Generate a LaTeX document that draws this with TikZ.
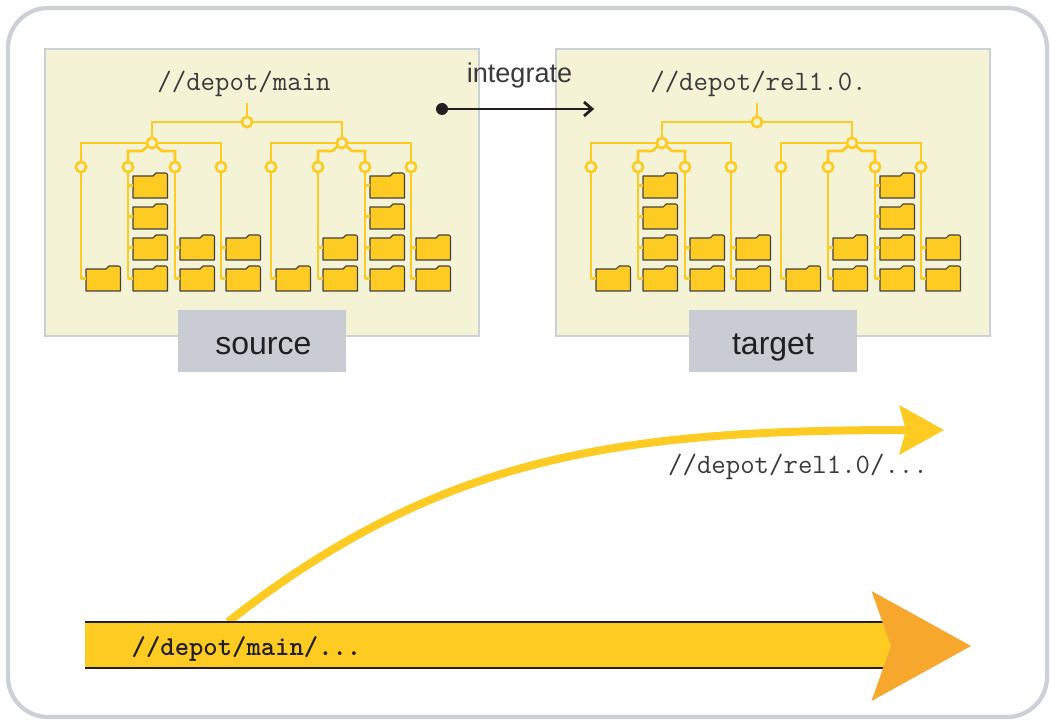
\documentclass[tikz,border=0pt]{standalone}
\usepackage{fontspec}
\setmainfont{Liberation Sans}
\definecolor{panel}{HTML}{F4F3D6}
\definecolor{edge}{HTML}{CDD0D7}
\definecolor{tag}{HTML}{C9CCD3}
\definecolor{gold}{HTML}{FDCB22}
\definecolor{amber}{HTML}{F6A72C}
\definecolor{ink}{HTML}{231F20}
\definecolor{soft}{HTML}{3A3A3C}
\tikzset{
  x=0.75pt,y=-0.75pt,
  frame/.style={draw=edge,line width=3.2pt,rounded corners=30pt,fill=white},
  panelbox/.style={draw=edge,line width=2.2pt,fill=panel},
  tagbox/.style={fill=tag,inner sep=0pt,minimum width=126pt,minimum height=46.5pt,text height=19.5pt,text depth=0pt,font=\fontsize{24}{26}\selectfont,text=ink},
  treeline/.style={draw=gold,line width=2.1pt},
  joint/.style={circle,draw=gold,fill=panel,line width=2pt,inner sep=0pt,minimum size=7.7pt},
  slot/.style={inner sep=0pt,minimum width=25.9pt,minimum height=18.75pt,anchor=north west},
  foldershape/.style={fill=gold,draw=ink!85,line width=0.8pt,line join=round},
  pathlabel/.style={font=\ttfamily\fontsize{21}{23}\selectfont,text=soft,inner sep=0pt},
}
% folder: #1 name, #2 left, #3 top
\newcommand{\folderat}[3]{%
  \node[slot] (#1) at (#2,#3) {};
  \draw[foldershape] (#2,#3+3) -- (#2+20,#3+3) -- (#2+23,#3) -- (#2+32.5,#3)
    to[out=0,in=90] (#2+34.5,#3+2) -- (#2+34.5,#3+25) -- (#2,#3+25) -- cycle;
}
% one hanging column: #1 name prefix, #2 joint x, #3 folder left, #4 rows
\newcommand{\hangcolumn}[4]{%
  \foreach \r/\ry in {#4}{%
    \folderat{#1f\r}{#3}{\ry}
    \draw[treeline] (#1.south |- #1f\r.west) -- (#1f\r.west);
  }%
}
\newcommand{\branchtree}[2]{%
  \begin{scope}[shift={(#2,0)}]
    \coordinate (#1top) at (247,103);
    \draw[treeline] (247,122) -- (#1top);
    \draw[treeline] (152,143) -- (152,122) -- (342,122) -- (342,143);
    \draw[treeline] (81,167) -- (81,143) -- (221,143) -- (221,167);
    \draw[treeline] (128,167) -- (128,151) -- (142,151) -- (152,143) -- (162,151) -- (175,151) -- (175,167);
    \draw[treeline] (271,167) -- (271,143) -- (411,143) -- (411,167);
    \draw[treeline] (318,167) -- (318,151) -- (332,151) -- (342,143) -- (352,151) -- (365,151) -- (365,167);
    \foreach \n/\x in {a/81,b/128,c/175,d/221,e/271,f/318,g/365,h/411}{
      \draw[treeline] (\x,167) -- (\x,279);
    }
    \node[joint] (#1root) at (247,122) {};
    \node[joint] (#1l) at (152,143) {};
    \node[joint] (#1r) at (342,143) {};
    \foreach \n/\x in {a/81,b/128,c/175,d/221,e/271,f/318,g/365,h/411}{
      \node[joint] (#1\n) at (\x,167) {};
    }
    \hangcolumn{#1a}{81}{86}{4/266}
    \hangcolumn{#1b}{128}{133}{1/173,2/204,3/235,4/266}
    \hangcolumn{#1c}{175}{180}{3/235,4/266}
    \hangcolumn{#1d}{221}{226}{3/235,4/266}
    \hangcolumn{#1e}{271}{276}{4/266}
    \hangcolumn{#1f}{318}{323}{3/235,4/266}
    \hangcolumn{#1g}{365}{370}{1/173,2/204,3/235,4/266}
    \hangcolumn{#1h}{411}{416}{3/235,4/266}
  \end{scope}%
}
\begin{document}
\begin{tikzpicture}
\useasboundingbox (0,0) rectangle (1050,720);
\fill[white] (0,0) rectangle (1050,720);
\draw[frame] (8,8) rectangle (1047,717);
% panels
\draw[panelbox] (45,49) rectangle (479,336);
\draw[panelbox] (556,49) rectangle (990,336);
\node[tagbox] (srctag) at (262,341) {\hspace*{2pt}source};
\node[tagbox] (tgttag) at (773,341) {target};
\node[pathlabel] (srcpath) at (244,84) {//depot/main};
\node[pathlabel] (tgtpath) at (758.5,84) {//depot/rel1.0.};
\branchtree{s}{0}
\branchtree{t}{510}
% integrate arrow
\node[circle,fill=ink,inner sep=0pt,minimum size=9pt] (dot) at (442,109) {};
\coordinate (arrowend) at (592,109);
\draw[ink,line width=2.1pt] (dot) -- (arrowend);
\draw[ink,line width=2.1pt,line join=miter] (584,102) -- (arrowend) -- (584,116);
\node[font=\fontsize{20.3}{22}\selectfont,text=soft,inner sep=0pt] (integrate) at (519.5,75.5) {integrate};
% branch curve
\coordinate (branchstart) at (228,622);
\coordinate (branchend) at (908,430);
\draw[gold,line width=6pt] (branchstart) .. controls (440,455) and (620,430) .. (branchend);
\fill[gold] (899,405) -- (944,430) -- (899,455) -- (906,430) -- cycle;
\node[pathlabel] (relpath) at (798,467) {//depot/rel1.0/...};
% main arrow
\node[inner sep=0pt,minimum width=607.5pt,minimum height=34.5pt,fill=gold,anchor=west] (bar) at (85,645) {};
\draw[ink,line width=1.6pt] (bar.north west) -- (bar.north east);
\draw[ink,line width=1.6pt] (bar.south west) -- (bar.south east);
\fill[amber] (871.5,591) -- (971,646) -- (871.5,701) -- (891,646) -- cycle;
\node[font=\ttfamily\bfseries\fontsize{20.5}{22}\selectfont,text=ink,inner sep=0pt] (mainpath) at (246.5,649) {//depot/main/...};
\end{tikzpicture}
\end{document}
